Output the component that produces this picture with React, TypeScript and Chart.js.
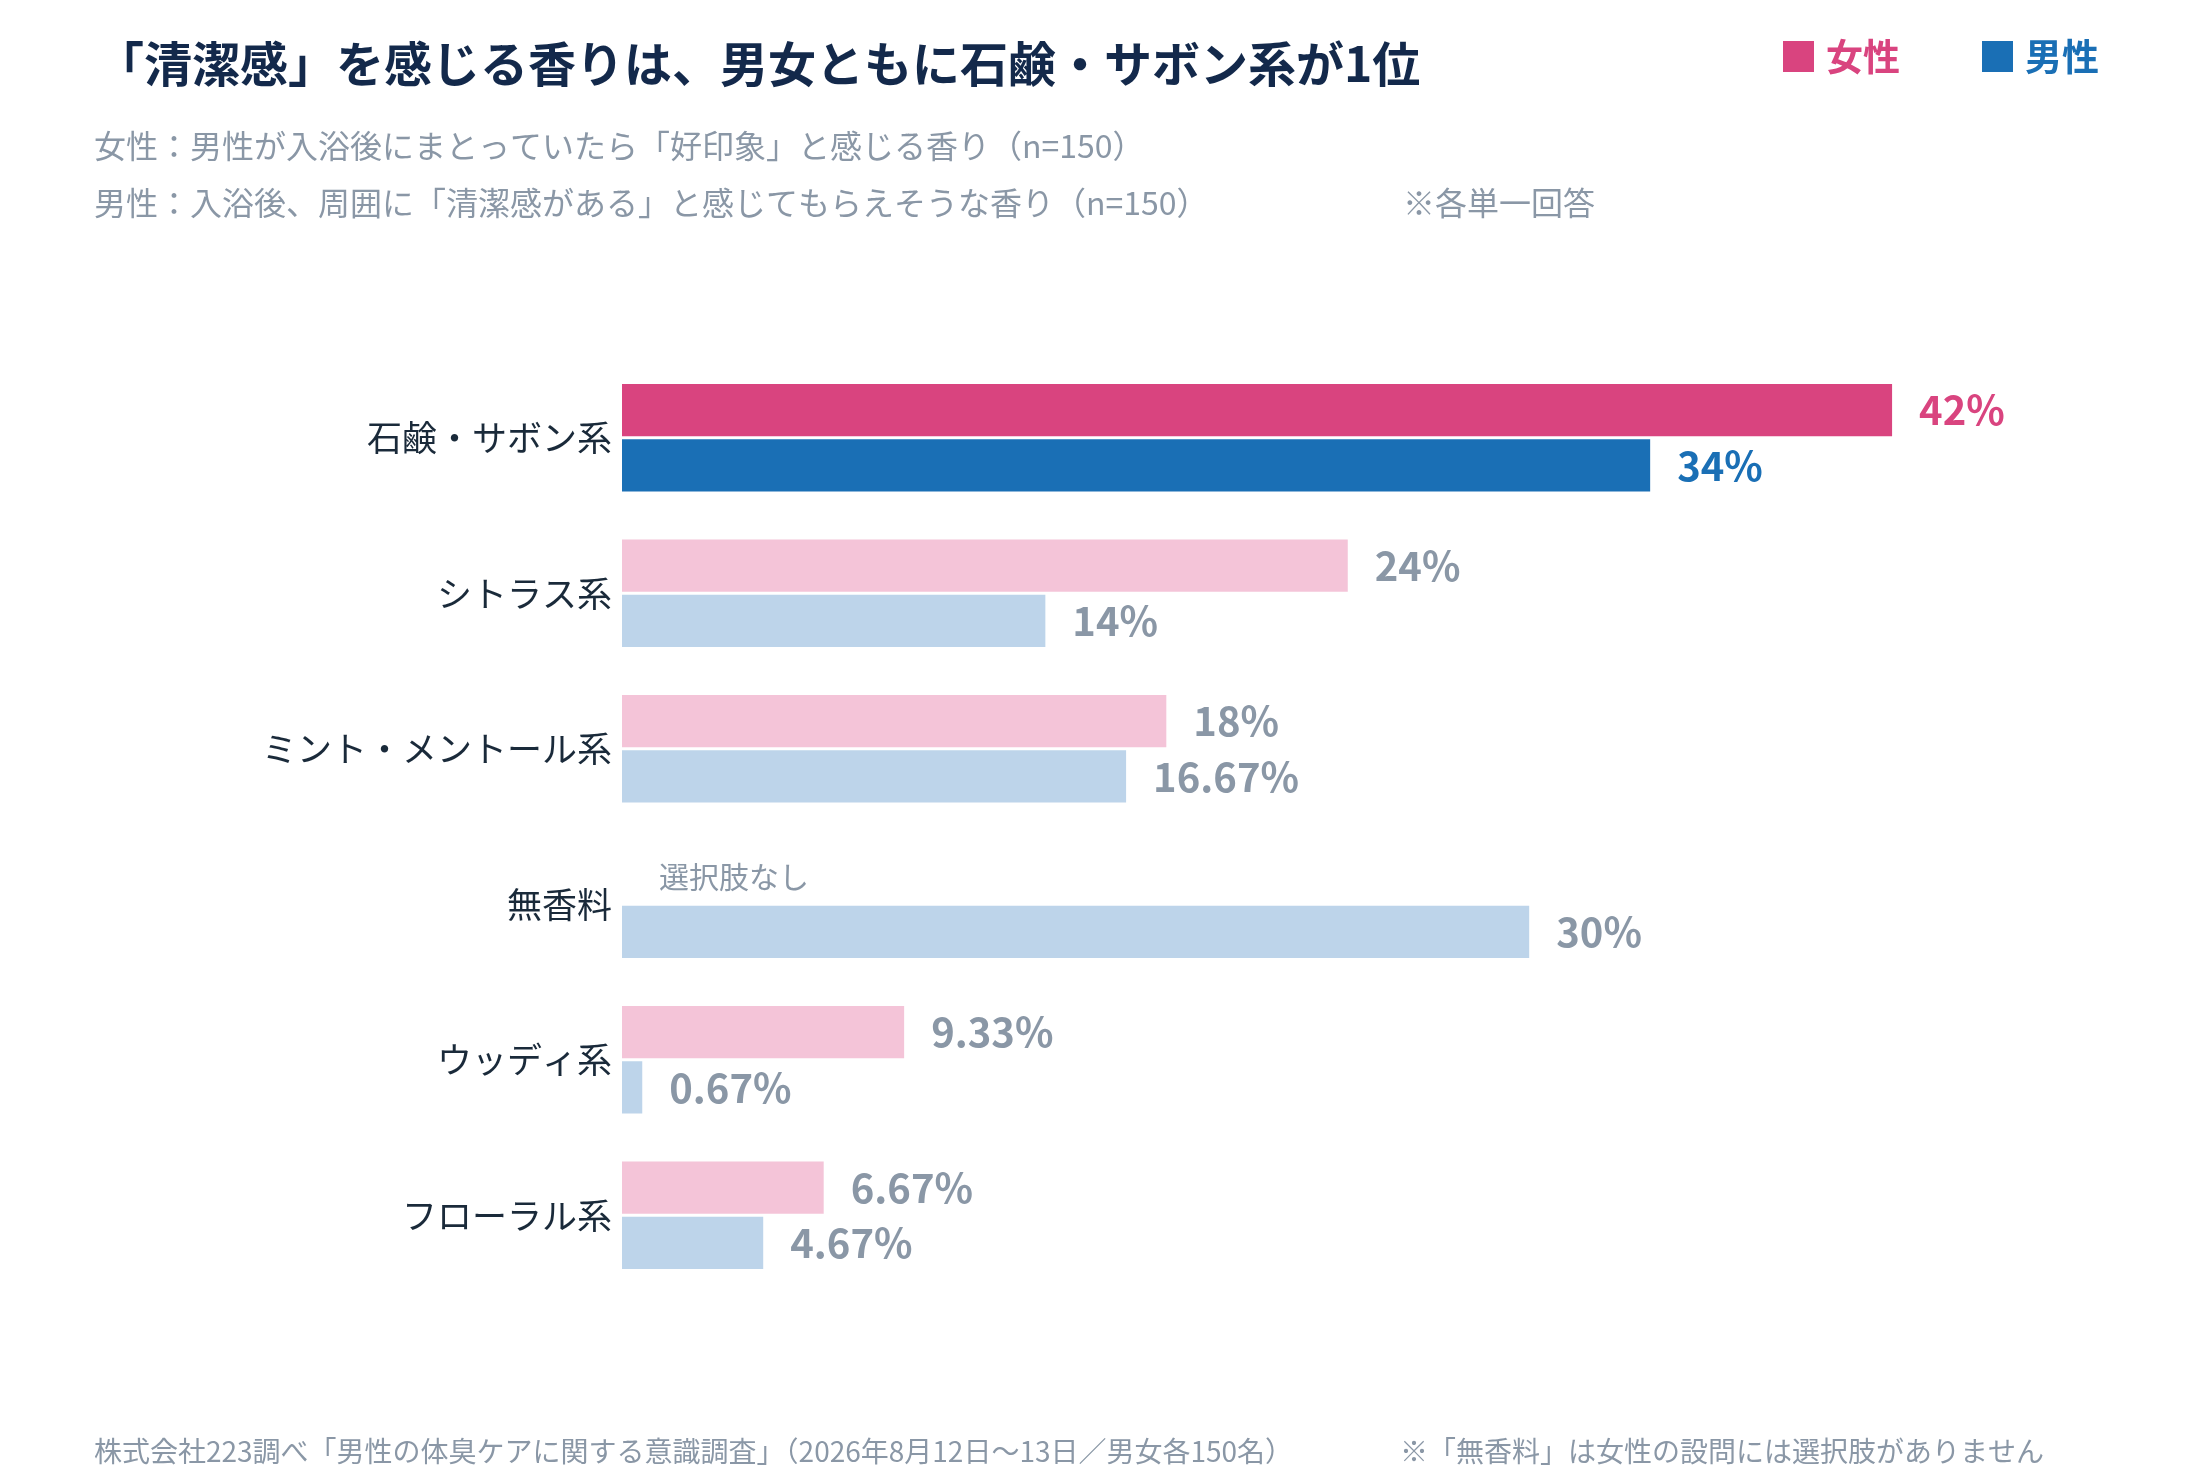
import React, { useEffect, useRef } from "react";
import { Chart, registerables } from "chart.js";
Chart.register(...registerables);

const categories = ["石鹸・サボン系", "シトラス系", "ミント・メントール系", "無香料", "ウッディ系", "フローラル系"];
const women: (number | null)[] = [42, 24, 18, null, 9.33, 6.67];
const men: number[] = [34, 14, 16.67, 30, 0.67, 4.67];
const womenLabels = ["42%", "24%", "18%", "", "9.33%", "6.67%"];
const menLabels = ["34%", "14%", "16.67%", "30%", "0.67%", "4.67%"];

const FONT = '"Noto Sans CJK JP", "Noto Sans", sans-serif';
const GREY = "#8A97A6";
const NAVY = "#13294B";

export default function App() {
  const ref = useRef<HTMLCanvasElement>(null);
  useEffect(() => {
    const deco = {
      id: "deco",
      afterDatasetsDraw(chart: any) {
        const ctx = chart.ctx;
        ctx.save();
        ctx.textBaseline = "middle";
        // title
        ctx.fillStyle = NAVY;
        ctx.font = `bold 48px ${FONT}`;
        ctx.textAlign = "left";
        ctx.fillText("「清潔感」を感じる香りは、男女ともに石鹸・サボン系が1位", 96, 64);
        ctx.font = `32px ${FONT}`;
        ctx.fillStyle = GREY;
        ctx.fillText("女性：男性が入浴後にまとっていたら「好印象」と感じる香り（n=150）", 94, 146);
        ctx.fillText("男性：入浴後、周囲に「清潔感がある」と感じてもらえそうな香り（n=150）", 94, 203);
        ctx.fillText("※各単一回答", 1403, 203);
        // legend
        ctx.font = `bold 37px ${FONT}`;
        ctx.fillStyle = "#D9447F";
        ctx.fillRect(1783, 41, 31, 31);
        ctx.fillText("女性", 1826, 57);
        ctx.fillStyle = "#1A6FB5";
        ctx.fillRect(1982, 41, 31, 31);
        ctx.fillText("男性", 2025, 57);
        // footer
        ctx.font = `28px ${FONT}`;
        ctx.fillStyle = GREY;
        ctx.fillText("株式会社223調べ「男性の体臭ケアに関する意識調査」（2026年8月12日〜13日／男女各150名）", 94, 1451);
        ctx.fillText("※「無香料」は女性の設問には選択肢がありません", 1400, 1451);
        // category labels
        const y = chart.scales.y;
        ctx.font = `35px ${FONT}`;
        ctx.fillStyle = "#1A2A3A";
        ctx.textAlign = "right";
        categories.forEach((c, i) => ctx.fillText(c, chart.chartArea.left - 10, y.getPixelForValue(i)));
        // value labels
        ctx.textAlign = "left";
        ctx.font = `bold 40px ${FONT}`;
        [0, 1].forEach((d) => {
          const meta = chart.getDatasetMeta(d);
          const labels = d === 0 ? womenLabels : menLabels;
          meta.data.forEach((bar: any, i: number) => {
            if (!labels[i]) return;
            ctx.fillStyle = i === 0 ? (d === 0 ? "#D9447F" : "#1A6FB5") : GREY;
            ctx.fillText(labels[i], bar.x + 27, bar.y);
          });
        });
        // no option note
        const m0 = chart.getDatasetMeta(0).data[3];
        ctx.font = `30px ${FONT}`;
        ctx.fillStyle = GREY;
        ctx.fillText("選択肢なし", chart.chartArea.left + 37, m0.y);
        ctx.restore();
      },
    };
    const chart = new Chart(ref.current!, {
      type: "bar",
      data: {
        labels: categories,
        datasets: [
          {
            label: "女性",
            data: women,
            backgroundColor: women.map((_, i) => (i === 0 ? "#D9447F" : "#F4C4D8")),
            categoryPercentage: 0.71,
            barPercentage: 0.95,
          },
          {
            label: "男性",
            data: men,
            backgroundColor: men.map((_, i) => (i === 0 ? "#1A6FB5" : "#BDD4EA")),
            categoryPercentage: 0.71,
            barPercentage: 0.95,
          },
        ],
      },
      options: {
        indexAxis: "y",
        animation: false,
        responsive: false,
        layout: { padding: { left: 622, right: 66, top: 360, bottom: 187 } },
        plugins: { legend: { display: false }, tooltip: { enabled: false } },
        scales: {
          x: { display: false, min: 0, max: 50 },
          y: { display: false },
        },
      },
      plugins: [deco],
    });
    return () => chart.destroy();
  }, []);
  return (
    <div style={{ position: "absolute", left: 0, top: 0, width: 2200, height: 1480, background: "#fff" }}>
      <canvas ref={ref} width={2200} height={1480} style={{ width: 2200, height: 1480 }} />
    </div>
  );
}
